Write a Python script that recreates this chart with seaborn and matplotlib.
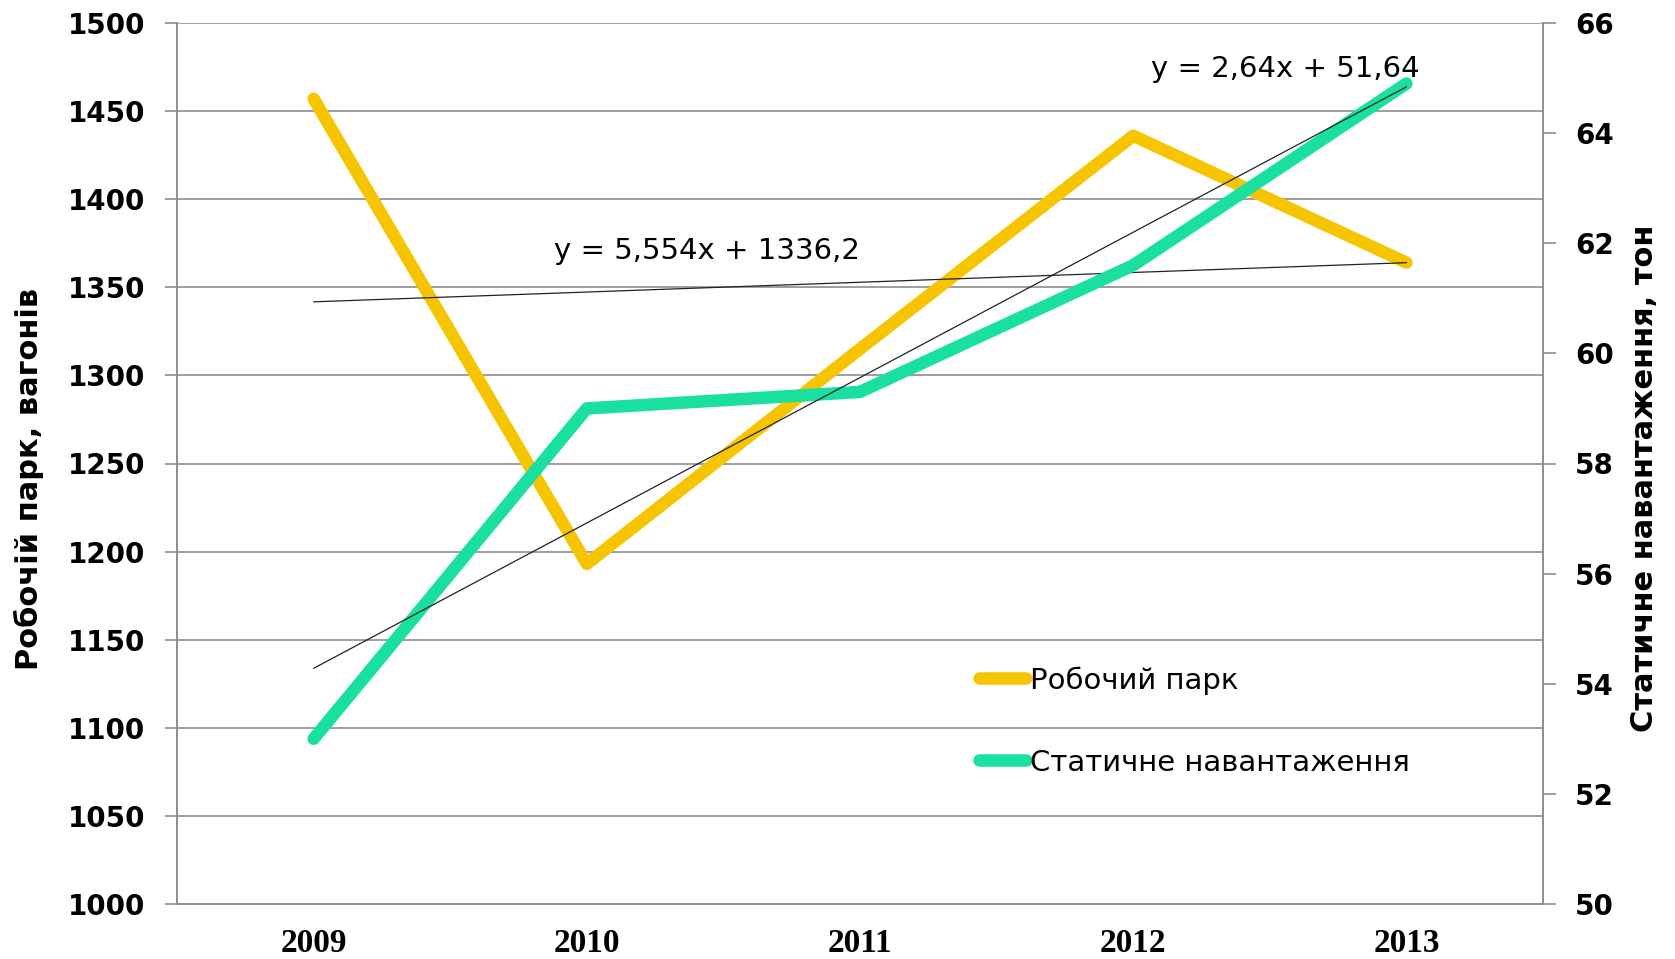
import numpy as np
import pandas as pd
import seaborn as sns
import matplotlib.pyplot as plt
from matplotlib.lines import Line2D

years = ["2009", "2010", "2011", "2012", "2013"]
park = [1457, 1193, 1315, 1436, 1364]          # Робочий парк, вагонів
load = [53.0, 59.0, 59.3, 61.6, 64.9]          # Статичне навантаження, тон
park_trend = (5.554, 1336.2)                   # y = 5,554x + 1336,2
load_trend = (2.64, 51.64)                     # y = 2,64x + 51,64
park_ticks = list(range(1000, 1501, 50))
load_ticks = list(range(50, 67, 2))

yellow = "#F6C500"
green = "#19DFA0"
grid_c = "#8e8e8e"

sns.set_style("white", {"text.color": "black", "axes.labelcolor": "black",
                        "xtick.color": "black", "ytick.color": "black"})
plt.rcParams['font.family'] = ['DejaVu Sans']

df = pd.DataFrame({"year": years, "park": park, "load": load})
xs = np.arange(len(years))

fig = plt.figure(figsize=(16.75, 9.59), dpi=100)
ax = fig.add_axes([177/1675, 1 - 904/959, (1543-177)/1675, (904-23)/959])
ax2 = ax.twinx()

sns.lineplot(data=df, x="year", y="park", ax=ax, color=yellow, lw=9,
             solid_capstyle="round", sort=False, legend=False)
sns.lineplot(data=df, x="year", y="load", ax=ax2, color=green, lw=9,
             solid_capstyle="round", sort=False, legend=False)

# trend lines (x = 1..5 in the original equations)
ax.plot(xs, park_trend[0] * (xs + 1) + park_trend[1], color="#222222", lw=0.9)
ax2.plot(xs, load_trend[0] * (xs + 1) + load_trend[1], color="#222222", lw=0.9)

ax.set_xlim(-0.5, len(years) - 0.5)
ax.set_ylim(1000, 1500)
ax2.set_ylim(50, 66)
ax.set_yticks(park_ticks)
ax2.set_yticks(load_ticks)

ax.set_xticks(xs)
ax.set_xticklabels(years, family="Liberation Serif", fontweight="bold", fontsize=24)
ax.set_xticks(np.arange(-0.5, len(years)), minor=True)
ax.tick_params(axis="x", which="major", length=0, pad=17, labelcolor="black")
ax.tick_params(axis="x", which="minor", length=9, width=1.2, color=grid_c, direction="out")

for a in (ax, ax2):
    a.tick_params(axis="y", length=9, width=1.2, color=grid_c, direction="out", pad=14,
                  labelsize=20, labelcolor="black")
for lab in ax.get_yticklabels() + ax2.get_yticklabels():
    lab.set_fontweight("bold")

ax.grid(axis="y", color=grid_c, lw=1.2)
ax.grid(axis="x", visible=False)
ax2.grid(False)

for a in (ax, ax2):
    a.spines["top"].set_visible(False)
    for s in ("left", "right", "bottom"):
        a.spines[s].set_color(grid_c)
        a.spines[s].set_linewidth(1.2)

ax.set_xlabel("")
ax.set_ylabel("Робочій парк, вагонів", fontsize=22, fontweight="bold")
ax2.set_ylabel("Статичне навантаження, тон", fontsize=22, fontweight="bold",
               rotation=90)
ax.yaxis.set_label_coords(-0.097, 0.483)
ax2.yaxis.set_label_coords(1.064, 0.483)

ax.text(0.388, 0.741, "y = 5,554x + 1336,2", transform=ax.transAxes,
        ha="center", va="center", fontsize=21)
ax.text(0.811, 0.948, "y = 2,64x + 51,64", transform=ax.transAxes,
        ha="center", va="center", fontsize=21)

handles = [Line2D([0], [0], color=yellow, lw=9, solid_capstyle="round"),
           Line2D([0], [0], color=green, lw=9, solid_capstyle="round")]
ax2.legend(handles, ["Робочий парк", "Статичне навантаження"], loc="upper left",
           bbox_to_anchor=(0.587, 0.27), frameon=False, fontsize=21,
           handlelength=1.6, handletextpad=0.15, labelspacing=1.85,
           borderpad=0, borderaxespad=0)

fig.savefig("out.png", dpi=100)
